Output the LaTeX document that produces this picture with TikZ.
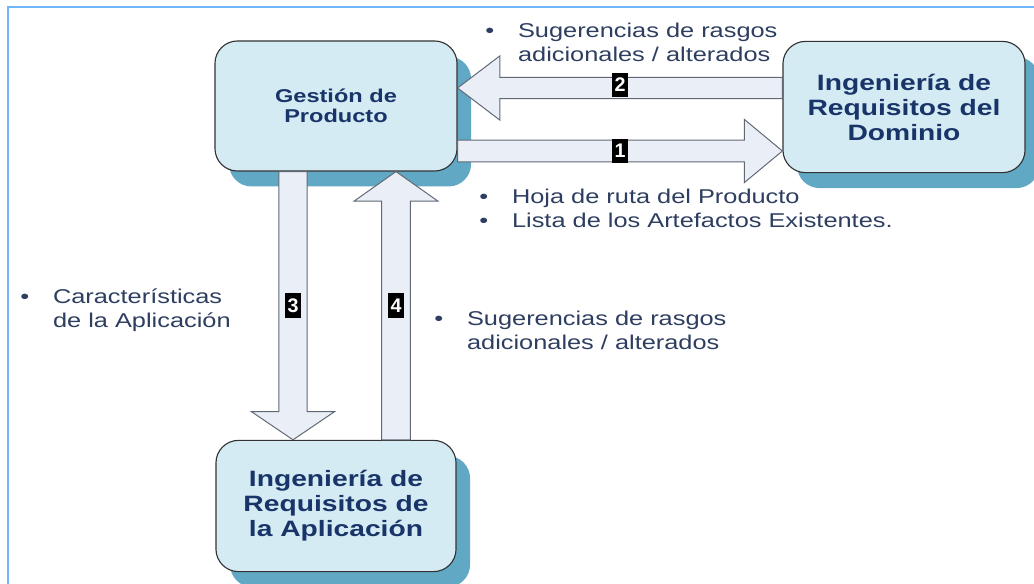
\documentclass[tikz,border=0pt]{standalone}
\usepackage{fontspec}
\setmainfont{Liberation Sans}
\newfontfamily\widesans[FakeStretch=1.27]{Liberation Sans}
\usetikzlibrary{calc, shadows, positioning}

\definecolor{boxfill}{RGB}{212,235,243}
\definecolor{boxshade}{RGB}{96,168,196}
\definecolor{titleblue}{RGB}{24,52,104}
\definecolor{noteblue}{RGB}{46,62,96}
\definecolor{arrowfill}{RGB}{234,239,247}
\definecolor{arrowline}{RGB}{96,104,116}
\definecolor{frameblue}{RGB}{112,182,250}

% block arrow: start, end, half shaft, half head, head length
\newcommand{\blockarrow}[5]{%
  \coordinate (hb) at ($(#2)!#5!(#1)$);
  \draw[arrowbody] ($(#1)!#3!90:(#2)$) -- ($(hb)!#3!-90:(#1)$) -- ($(hb)!#4!-90:(#1)$) -- (#2)
    -- ($(hb)!#4!90:(#1)$) -- ($(hb)!#3!90:(#1)$) -- ($(#1)!#3!-90:(#2)$) -- cycle;
}
\newcommand{\notelines}[2]{%
  \begin{tabular}{@{}l@{\hspace{17pt}}l@{}}\textbullet & #1\\ & #2\end{tabular}}

\begin{document}
\begin{tikzpicture}[
    x=0.025cm, y=-0.025cm,
    box/.style={
        draw=black!80,
        line width=0.8pt,
        fill=boxfill,
        rounded corners=16pt,
        align=center,
        text=titleblue,
        minimum width=6.05cm,
        minimum height=3.25cm,
        drop shadow={shadow xshift=10pt, shadow yshift=-11pt, fill=boxshade, opacity=1}
    },
    bigtitle/.style={font=\widesans\bfseries\fontsize{15.8}{17.8}\selectfont},
    smalltitle/.style={font=\widesans\bfseries\fontsize{13.2}{14.6}\selectfont},
    note/.style={anchor=west, inner sep=0pt, text=noteblue,
        font=\widesans\fontsize{14.2}{16.8}\selectfont},
    arrowbody/.style={fill=arrowfill, draw=arrowline, line width=0.7pt, line join=miter},
    tag/.style={fill=black, text=white, inner sep=0pt,
        minimum width=11.5pt, minimum height=17.5pt,
        font=\bfseries\fontsize{14}{14}\selectfont}
]
\useasboundingbox (0,0) rectangle (1034,584);

% marco
\draw[frameblue, line width=1.5pt] (8,584) |- (1034,7);

% cajas
\node[box, smalltitle] (prod) at (336,106) {Gestión de\\Producto};
\node[box, bigtitle, minimum height=3.28cm] (dom) at (904,107) {Ingeniería de\\Requisitos del\\Dominio};
\node[box, bigtitle, minimum width=6cm, minimum height=3.28cm] (app) at (336,506) {Ingeniería de\\Requisitos de\\la Aplicación};

% puntos de las flechas
\coordinate (a1s) at ($(prod.east)+(0,45)$);
\coordinate (a1e) at (a1s -| dom.west);
\coordinate (a2s) at ($(dom.west)+(0,-19)$);
\coordinate (a2e) at (a2s -| prod.east);
\coordinate (a3s) at ($(prod.south)+(-43,0)$);
\coordinate (a3e) at (a3s |- app.north);
\coordinate (a4s) at ($(app.north)+(60,0)$);
\coordinate (a4e) at (a4s |- prod.south);

% flechas
\blockarrow{a1s}{a1e}{7.8pt}{22.4pt}{27pt}
\blockarrow{a2s}{a2e}{7.5pt}{22.8pt}{30pt}
\blockarrow{a3s}{a3e}{10pt}{29.5pt}{20pt}
\blockarrow{a4s}{a4e}{10.3pt}{29.8pt}{21pt}

% numeros
\node[tag] (n1) at ($(a1s)!.5!(a1e)$) {1};
\node[tag] (n2) at ($(a2s)!.5!(a2e)+(0,-3)$) {2};
\node[tag] (n3) at ($(a3s)!.5!(a3e)$) {3};
\node[tag] (n4) at ($(a4s)!.5!(a4e)$) {4};

% textos
\node[note] (sugdom) at (485,45) {\notelines{Sugerencias de rasgos}{adicionales / alterados}};
\node[note] (hoja) at (479,211) {\begin{tabular}{@{}l@{\hspace{17pt}}l@{}}\textbullet & Hoja de ruta del Producto\\ \textbullet & Lista de los Artefactos Existentes.\end{tabular}};
\node[note] (carac) at (20,311) {\notelines{Características}{de la Aplicación}};
\node[note] (sugapp) at (434,333) {\notelines{Sugerencias de rasgos}{adicionales / alterados}};

\end{tikzpicture}
\end{document}
